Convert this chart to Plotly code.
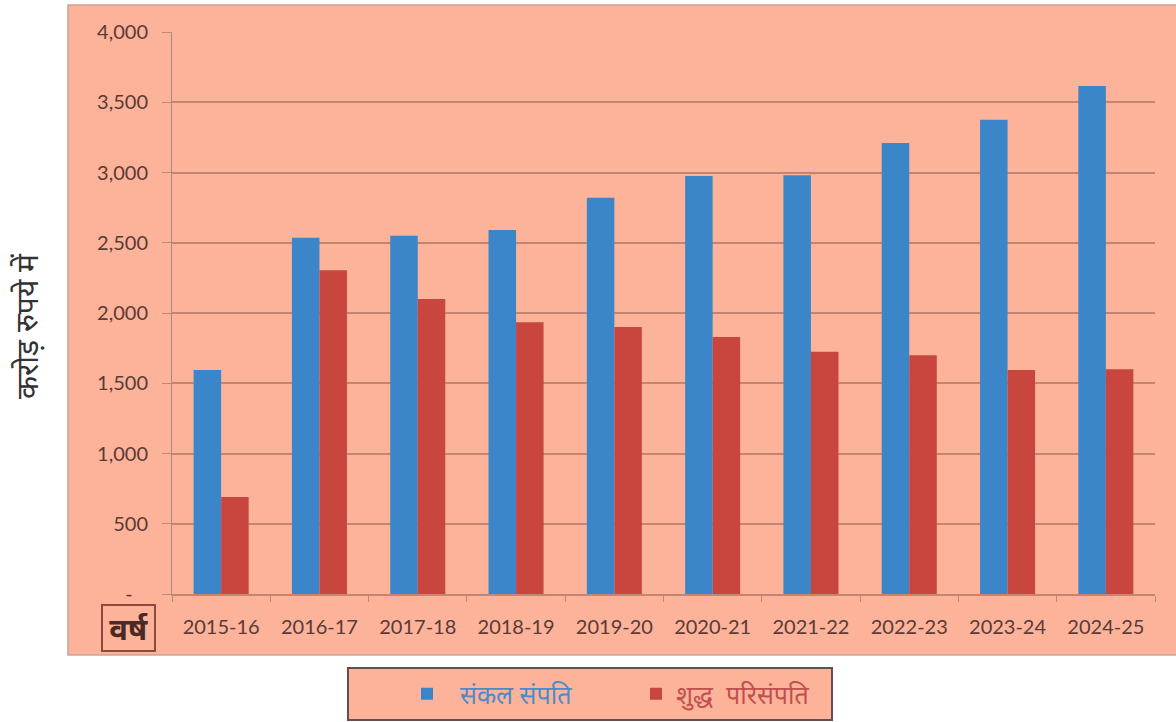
import plotly.graph_objects as go

years = ["2015-16", "2016-17", "2017-18", "2018-19", "2019-20",
         "2020-21", "2021-22", "2022-23", "2023-24", "2024-25"]
gross_assets = [1595, 2535, 2550, 2590, 2820, 2975, 2980, 3210, 3375, 3615]
net_assets = [690, 2305, 2100, 1935, 1900, 1830, 1725, 1700, 1595, 1600]
ytick_vals = [0, 500, 1000, 1500, 2000, 2500, 3000, 3500, 4000]
ytick_text = ["-\u00a0\u00a0\u00a0", "500", "1,000", "1,500", "2,000", "2,500", "3,000", "3,500", "4,000"]

name_gross = "संकल संपति"
name_net = "शुद्ध  परिसंपति"

SALMON = "#FDB39A"
BLUE = "#3A86C8"
RED = "#C9463F"
GRID = "#C48674"
TXT = "#5A3A36"

W, H = 1176, 722
L, R, T, B = 172, 21, 32, 128
PW, PH = W - L - R, H - T - B


def px(x):
    return (x - L) / PW


def py(y):
    return (H - B - y) / PH


fig = go.Figure()
fig.add_trace(go.Bar(x=years, y=gross_assets, marker_color=BLUE, marker_line_width=0,
                     name=f"<span style='color:#4C8BC8'>\u00a0\u00a0{name_gross}</span>"))
fig.add_trace(go.Bar(x=years, y=net_assets, marker_color=RED, marker_line_width=0,
                     name=f"<span style='color:#C0504D'>{name_net.replace('  ', chr(160) + ' ')}</span>"))

fig.update_layout(
    width=W, height=H,
    margin=dict(l=L, r=R, t=T, b=B, autoexpand=False),
    paper_bgcolor="white",
    plot_bgcolor=SALMON,
    barmode="group",
    bargap=0.44,
    bargroupgap=0.0,
    font=dict(family="Lato, Open Sans, sans-serif", color=TXT),
    showlegend=True,
    legend=dict(orientation="h", x=px(407), y=py(694), xanchor="left", yanchor="middle",
                bgcolor="rgba(0,0,0,0)", entrywidth=184, entrywidthmode="pixels",
                font=dict(size=25, family="Noto Sans, sans-serif"), itemclick=False),
    shapes=[
        dict(type="rect", xref="paper", yref="paper", layer="below",
             x0=px(68), x1=px(1178), y0=py(655), y1=py(5),
             fillcolor=SALMON, line=dict(color="#C9A596", width=1.5)),
        dict(type="rect", xref="paper", yref="paper", layer="below",
             x0=px(348), x1=px(832), y0=py(720), y1=py(668),
             fillcolor=SALMON, line=dict(color="#6B4B4B", width=2)),
    ],
    annotations=[
        dict(text="करोड़ रुपये में", xref="paper", yref="paper", x=px(26), y=py(326),
             xanchor="center", yanchor="middle",
             textangle=-90, showarrow=False,
             font=dict(size=30, color="#333333", family="Noto Sans, sans-serif")),
        dict(text="<b>\u2009वर्ष\u2009</b>", xref="paper", yref="paper", x=px(128), y=py(628),
             xanchor="center", yanchor="middle",
             showarrow=False, font=dict(size=31, color="#4A2A26", family="Noto Sans, sans-serif"),
             bordercolor="#8B4A3A", borderwidth=2, borderpad=1),
    ],
)

fig.update_yaxes(range=[0, 4000], tickvals=ytick_vals, ticktext=ytick_text,
                 showgrid=True, gridcolor=GRID, gridwidth=1.5,
                 showline=True, linecolor="#A88A80", linewidth=1,
                 ticks="outside", ticklen=9, tickcolor=GRID,
                 ticklabelstandoff=10,
                 tickfont=dict(size=20, color=TXT), zeroline=False)
fig.update_xaxes(showgrid=False, showline=True, linecolor=GRID, linewidth=1.5,
                 ticks="outside", tickson="boundaries", ticklen=6, tickcolor=GRID,
                 ticklabelstandoff=14,
                 tickfont=dict(size=20, color=TXT))

fig.write_html("out.html", config={"displayModeBar": False},
               post_script="document.body.style.margin='0';")
